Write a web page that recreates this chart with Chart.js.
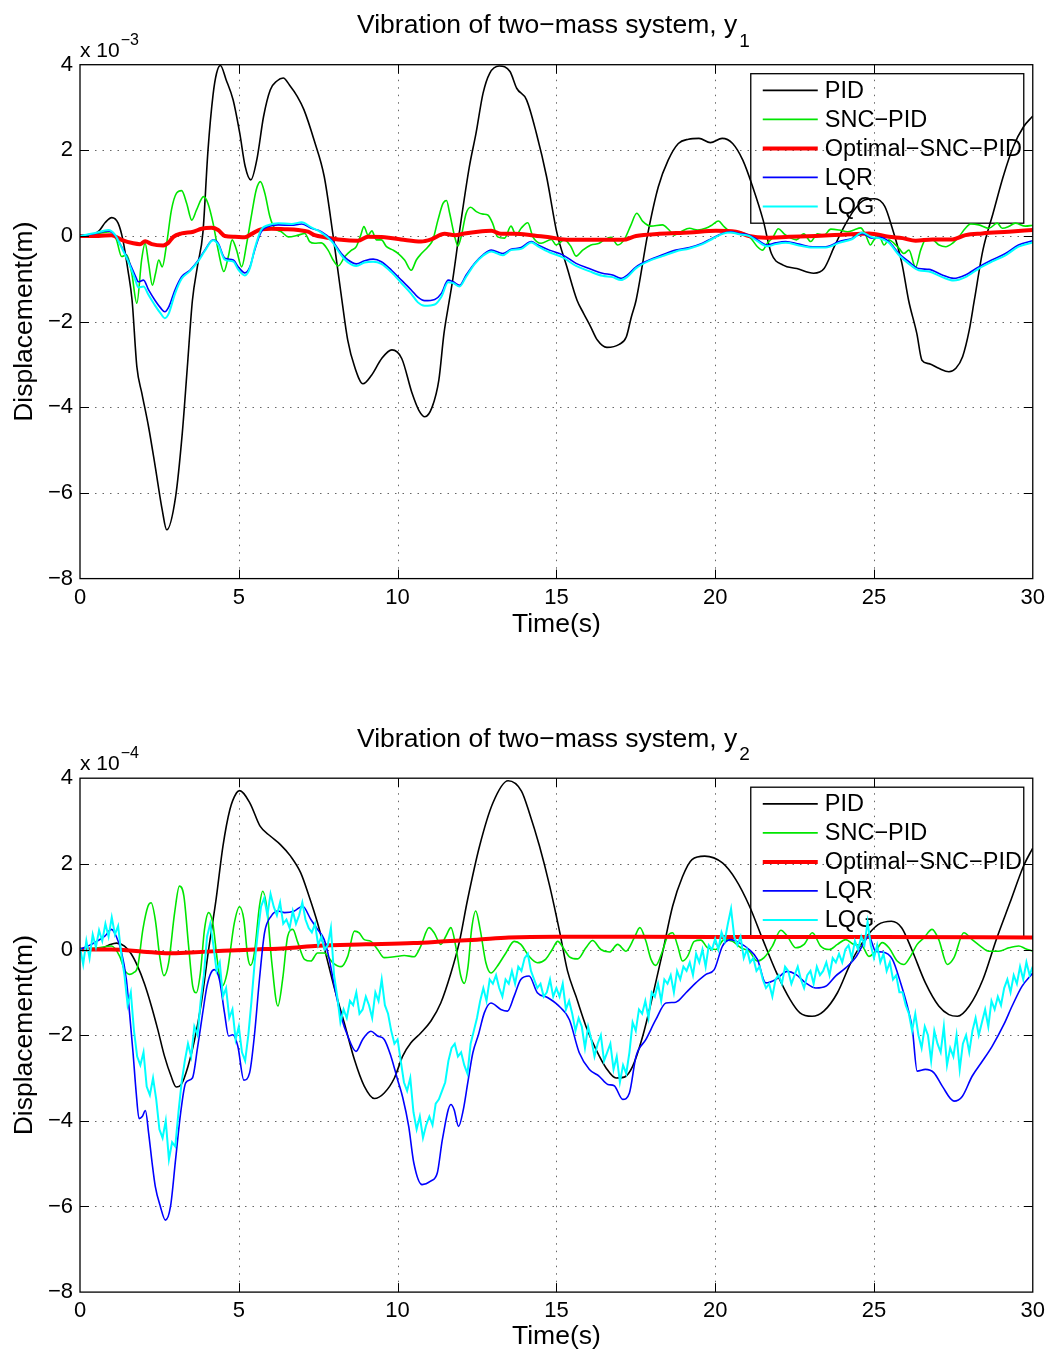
<!DOCTYPE html>
<html>
<head>
<meta charset="utf-8">
<title>Vibration of two-mass system</title>
<script src="https://cdn.jsdelivr.net/npm/chart.js@4.4.1/dist/chart.umd.min.js"></script>
<style>
  html, body { margin: 0; padding: 0; background: #fff; }
  #wrap { position: relative; width: 1051px; height: 1355px; }
  canvas { position: absolute; left: 0; }
</style>
</head>
<body>
<div id="wrap">
  <canvas id="c1" width="1051" height="675" style="top:0px"></canvas>
  <canvas id="c2" width="1051" height="680" style="top:675px"></canvas>
</div>
<script>
// ---- axis ticks and series names ----
const xTicks = [0, 5, 10, 15, 20, 25, 30];
const yTicks = [-8, -6, -4, -2, 0, 2, 4];
const seriesNames = ['PID', 'SNC\u2212PID', 'Optimal\u2212SNC\u2212PID', 'LQR', 'LQG'];

// ---- y1 response, [time s, displacement x1e-3 m] ----
const pidY1 = [[0,0],[0.4,0.03],[0.6,0.12],[0.8,0.32],[1.0,0.43],[1.2,0.3],[1.35,-0.09],[1.51,-0.8],[1.64,-1.5],[1.79,-3.05],[1.95,-3.68],[2.16,-4.46],[2.37,-5.39],[2.59,-6.4],[2.73,-6.86],[3.01,-6.09],[3.22,-4.61],[3.38,-3.06],[3.54,-1.5],[3.7,-0.7],[3.87,0.08],[4.03,2.0],[4.19,3.3],[4.3,3.8],[4.42,3.98],[4.6,3.65],[4.82,3.18],[5.03,2.4],[5.2,1.63],[5.38,1.31],[5.57,1.79],[5.78,2.79],[5.99,3.41],[6.2,3.62],[6.4,3.69],[6.6,3.52],[6.84,3.26],[7.05,2.95],[7.37,2.24],[7.69,1.39],[7.96,0.06],[8.22,-1.35],[8.43,-2.43],[8.65,-3.06],[8.91,-3.45],[9.18,-3.25],[9.5,-2.86],[9.82,-2.66],[10.13,-2.86],[10.46,-3.68],[10.67,-4.07],[10.86,-4.22],[11.09,-3.99],[11.3,-3.36],[11.46,-2.28],[11.63,-1.5],[11.74,-1.0],[11.94,0.06],[12.26,1.62],[12.47,2.4],[12.69,3.33],[12.9,3.8],[13.2,3.97],[13.54,3.84],[13.75,3.45],[14.06,3.18],[14.37,2.4],[14.69,1.39],[15.02,0.06],[15.33,-0.72],[15.65,-1.5],[15.86,-1.81],[16.08,-2.12],[16.29,-2.43],[16.59,-2.6],[16.98,-2.53],[17.2,-2.36],[17.36,-1.89],[17.51,-1.5],[17.88,0.06],[18.21,1.15],[18.52,1.77],[18.84,2.16],[19.16,2.26],[19.49,2.28],[19.85,2.18],[20.22,2.28],[20.55,2.16],[20.87,1.77],[21.18,1.15],[21.51,0.37],[21.77,-0.41],[22.14,-0.68],[22.57,-0.76],[23.1,-0.87],[23.43,-0.76],[23.75,-0.25],[24.06,0.22],[24.38,0.61],[24.7,0.84],[25.02,0.87],[25.34,0.69],[25.56,0.22],[25.88,-0.64],[26.09,-1.5],[26.35,-2.28],[26.51,-2.9],[26.73,-2.98],[27.04,-3.09],[27.36,-3.17],[27.58,-3.09],[27.79,-2.82],[28.0,-2.2],[28.16,-1.5],[28.43,-0.33],[28.75,0.53],[29.07,1.39],[29.39,2.09],[29.71,2.55],[30.0,2.8]];

const sncY1 = [[0,0],[0.58,0.06],[0.99,0.1],[1.15,-0.09],[1.31,-0.48],[1.47,-0.44],[1.63,-0.87],[1.79,-1.57],[1.94,-0.56],[2.05,-0.17],[2.16,-0.64],[2.28,-1.15],[2.38,-0.87],[2.48,-0.56],[2.59,-0.72],[2.73,-0.17],[2.88,0.61],[3.04,1.0],[3.2,1.06],[3.36,0.76],[3.52,0.37],[3.67,0.61],[3.89,0.92],[4.03,0.76],[4.19,0.3],[4.35,-0.33],[4.53,-0.83],[4.67,-0.48],[4.79,-0.09],[4.93,-0.33],[5.09,-0.72],[5.25,-0.17],[5.41,0.53],[5.55,1.08],[5.68,1.27],[5.82,1.0],[5.98,0.45],[6.13,0.18],[6.34,0.1],[6.56,-0.02],[6.87,0.02],[7.08,0.06],[7.23,-0.13],[7.39,-0.17],[7.6,-0.16],[7.81,-0.33],[7.97,-0.56],[8.13,-0.7],[8.34,-0.48],[8.55,-0.33],[8.7,-0.25],[8.84,0.02],[8.94,0.22],[9.07,0.02],[9.19,0.12],[9.33,-0.09],[9.49,-0.09],[9.65,-0.25],[9.86,-0.33],[10.02,-0.41],[10.22,-0.56],[10.43,-0.8],[10.59,-0.56],[10.75,-0.41],[10.96,-0.25],[11.11,-0.09],[11.27,0.37],[11.43,0.76],[11.54,0.83],[11.64,0.53],[11.8,-0.02],[11.9,-0.23],[12.0,-0.02],[12.16,0.53],[12.3,0.67],[12.48,0.57],[12.69,0.51],[12.84,0.49],[12.99,0.3],[13.15,-0.02],[13.37,-0.05],[13.57,0.23],[13.73,0.02],[13.89,0.18],[14.1,0.31],[14.26,-0.02],[14.52,-0.17],[14.84,-0.08],[14.99,-0.21],[15.25,-0.09],[15.46,-0.25],[15.62,-0.47],[15.83,-0.33],[16.09,-0.21],[16.35,-0.17],[16.51,-0.09],[16.72,-0.03],[16.93,-0.21],[17.14,-0.08],[17.35,0.26],[17.53,0.53],[17.72,0.34],[17.97,0.23],[18.34,0.26],[18.55,0.14],[18.71,0.02],[18.92,0.1],[19.19,0.18],[19.45,0.14],[19.7,0.18],[19.91,0.26],[20.1,0.35],[20.28,0.22],[20.49,0.1],[20.7,0.1],[20.92,0.06],[21.12,-0.05],[21.33,-0.25],[21.49,-0.33],[21.64,-0.17],[21.82,-0.03],[21.99,0.17],[22.17,0.05],[22.38,-0.05],[22.56,-0.09],[22.79,0.05],[23.01,-0.13],[23.22,0.05],[23.43,0.02],[23.64,0.16],[23.9,0.14],[24.17,0.1],[24.37,0.14],[24.58,0.19],[24.74,0.02],[24.89,-0.21],[25.0,-0.09],[25.16,0],[25.32,-0.21],[25.47,-0.09],[25.63,-0.17],[25.79,-0.29],[25.94,-0.41],[26.1,-0.33],[26.31,-0.73],[26.47,-0.33],[26.63,-0.09],[26.84,-0.09],[27.05,-0.21],[27.26,-0.25],[27.47,-0.17],[27.67,-0.02],[27.88,0.18],[28.04,0.28],[28.3,0.26],[28.62,0.18],[28.88,0.3],[29.04,0.18],[29.24,0.22],[29.45,0.3],[29.77,0.23],[30.0,0.25]];

const optY1 = [[0,0],[0.58,0],[0.99,0.02],[1.31,-0.09],[1.68,-0.17],[1.89,-0.19],[2.05,-0.12],[2.26,-0.19],[2.62,-0.22],[2.78,-0.16],[2.94,-0.02],[3.2,0.06],[3.57,0.1],[3.83,0.17],[4.14,0.19],[4.35,0.14],[4.56,0],[4.88,-0.02],[5.19,-0.03],[5.41,0.05],[5.71,0.16],[6.03,0.17],[6.45,0.16],[6.87,0.14],[7.18,0.1],[7.39,0.02],[7.71,-0.03],[8.23,-0.09],[8.75,-0.11],[9.07,-0.02],[9.59,-0.03],[10.11,-0.08],[10.74,-0.13],[11.06,-0.08],[11.48,0.05],[11.8,0.02],[12.11,0.06],[12.53,0.1],[12.95,0.12],[13.26,0.05],[13.68,0.05],[14.21,0.02],[14.78,-0.03],[15.41,-0.09],[16.35,-0.09],[17.09,-0.09],[17.51,0],[18.24,0.05],[19.19,0.08],[20.02,0.12],[20.65,0.1],[21.06,0],[21.59,-0.04],[22.33,-0.02],[23.16,0],[24.01,0.03],[24.84,0.06],[25.47,-0.02],[25.9,-0.05],[26.31,-0.11],[26.84,-0.08],[27.47,-0.08],[27.88,0.02],[28.41,0.06],[29.24,0.1],[30.0,0.14]];

const lqrY1 = [[0,0],[0.48,0.06],[0.89,0.12],[1.1,0.02],[1.31,-0.25],[1.52,-0.56],[1.73,-0.91],[1.84,-1.07],[2.0,-1.03],[2.16,-1.26],[2.36,-1.5],[2.55,-1.69],[2.67,-1.77],[2.8,-1.65],[2.99,-1.26],[3.2,-0.95],[3.46,-0.8],[3.73,-0.56],[3.93,-0.33],[4.19,-0.09],[4.35,-0.17],[4.56,-0.52],[4.83,-0.56],[4.98,-0.72],[5.19,-0.86],[5.35,-0.72],[5.5,-0.33],[5.71,0.1],[5.92,0.22],[6.24,0.26],[6.66,0.25],[6.98,0.28],[7.28,0.18],[7.6,0.1],[7.92,-0.09],[8.23,-0.41],[8.44,-0.56],[8.7,-0.65],[8.96,-0.58],[9.23,-0.54],[9.49,-0.6],[9.81,-0.8],[10.12,-1.03],[10.43,-1.26],[10.64,-1.43],[10.85,-1.51],[11.17,-1.48],[11.38,-1.34],[11.59,-1.03],[11.75,-1.07],[11.95,-1.15],[12.16,-0.91],[12.42,-0.64],[12.69,-0.44],[12.95,-0.33],[13.31,-0.41],[13.57,-0.31],[13.89,-0.27],[14.21,-0.13],[14.42,-0.21],[14.78,-0.33],[15.2,-0.44],[15.62,-0.64],[16.03,-0.76],[16.45,-0.87],[16.77,-0.91],[17.03,-0.99],[17.24,-0.91],[17.51,-0.72],[17.92,-0.56],[18.34,-0.44],[18.76,-0.33],[19.19,-0.27],[19.6,-0.17],[19.91,-0.05],[20.23,0.06],[20.49,0.1],[20.76,0.06],[21.07,0.02],[21.33,-0.09],[21.64,-0.21],[21.91,-0.16],[22.22,-0.13],[22.64,-0.19],[23.06,-0.25],[23.48,-0.25],[23.9,-0.13],[24.32,-0.05],[24.63,0.06],[24.94,-0.05],[25.16,-0.03],[25.47,-0.13],[25.79,-0.41],[26.1,-0.6],[26.41,-0.76],[26.73,-0.78],[27.15,-0.91],[27.51,-0.99],[27.88,-0.91],[28.3,-0.72],[28.71,-0.56],[29.14,-0.41],[29.55,-0.21],[30.0,-0.11]];

const lqgY1 = [[0,0],[0.48,0.07],[0.89,0.14],[1.1,0.03],[1.31,-0.27],[1.52,-0.6],[1.73,-1.0],[1.84,-1.2],[2.0,-1.18],[2.16,-1.38],[2.36,-1.62],[2.55,-1.82],[2.67,-1.92],[2.8,-1.8],[2.99,-1.35],[3.2,-1.0],[3.46,-0.82],[3.73,-0.58],[3.93,-0.35],[4.19,-0.1],[4.35,-0.2],[4.56,-0.55],[4.83,-0.6],[4.98,-0.78],[5.19,-0.92],[5.35,-0.75],[5.5,-0.3],[5.71,0.15],[5.92,0.25],[6.24,0.3],[6.66,0.28],[6.98,0.32],[7.28,0.2],[7.6,0.08],[7.92,-0.12],[8.23,-0.45],[8.44,-0.62],[8.7,-0.7],[8.96,-0.62],[9.23,-0.6],[9.49,-0.65],[9.81,-0.85],[10.12,-1.1],[10.43,-1.35],[10.64,-1.55],[10.85,-1.63],[11.17,-1.6],[11.38,-1.42],[11.59,-1.08],[11.75,-1.1],[11.95,-1.18],[12.16,-0.95],[12.42,-0.66],[12.69,-0.46],[12.95,-0.36],[13.31,-0.45],[13.57,-0.33],[13.89,-0.3],[14.21,-0.15],[14.42,-0.24],[14.78,-0.38],[15.2,-0.5],[15.62,-0.7],[16.03,-0.82],[16.45,-0.93],[16.77,-0.96],[17.03,-1.03],[17.24,-0.95],[17.51,-0.75],[17.92,-0.58],[18.34,-0.47],[18.76,-0.36],[19.19,-0.29],[19.6,-0.19],[19.91,-0.07],[20.23,0.05],[20.49,0.08],[20.76,0.04],[21.07,0.0],[21.33,-0.12],[21.64,-0.24],[21.91,-0.19],[22.22,-0.16],[22.64,-0.22],[23.06,-0.27],[23.48,-0.27],[23.9,-0.16],[24.32,-0.07],[24.63,0.08],[24.94,-0.03],[25.16,-0.05],[25.47,-0.16],[25.79,-0.45],[26.1,-0.65],[26.41,-0.8],[26.73,-0.83],[27.15,-0.96],[27.51,-1.04],[27.88,-0.96],[28.3,-0.76],[28.71,-0.6],[29.14,-0.45],[29.55,-0.25],[30.0,-0.15]];

// ---- y2 response, [time s, displacement x1e-4 m] ----
const pidY2 = [[0,0],[0.57,0.0],[0.9,0.1],[1.15,0.15],[1.4,0.08],[1.61,-0.1],[1.82,-0.4],[2.03,-0.8],[2.24,-1.3],[2.45,-1.87],[2.66,-2.49],[2.87,-2.96],[3.03,-3.21],[3.19,-3.15],[3.4,-2.73],[3.61,-2.1],[3.82,-1.25],[4.05,0.0],[4.29,1.2],[4.5,2.41],[4.72,3.27],[4.93,3.66],[5.03,3.71],[5.35,3.42],[5.67,2.88],[5.99,2.65],[6.31,2.45],[6.63,2.18],[6.95,1.79],[7.21,1.25],[7.48,0.62],[7.72,-0.05],[8.01,-0.9],[8.32,-1.71],[8.64,-2.57],[8.95,-3.19],[9.27,-3.48],[9.58,-3.35],[9.9,-3.0],[10.16,-2.49],[10.42,-2.18],[10.73,-1.95],[11.05,-1.67],[11.36,-1.25],[11.68,-0.55],[11.94,0.16],[12.2,1.15],[12.58,2.41],[13.0,3.42],[13.48,3.94],[13.9,3.7],[14.15,3.19],[14.47,2.41],[14.79,1.48],[15.11,0.39],[15.35,-0.5],[15.62,-1.1],[15.93,-1.79],[16.25,-2.34],[16.56,-2.76],[16.88,-3.0],[17.14,-2.98],[17.4,-2.73],[17.72,-2.02],[18.03,-1.09],[18.34,-0.08],[18.66,1.01],[18.97,1.7],[19.27,2.1],[19.67,2.18],[20.23,2.02],[20.65,1.63],[21.08,1.01],[21.5,0.23],[21.93,-0.54],[22.36,-1.17],[22.67,-1.48],[23.05,-1.56],[23.42,-1.44],[23.85,-1.01],[24.27,-0.31],[24.7,0.23],[25.13,0.58],[25.55,0.66],[25.87,0.51],[26.19,0.0],[26.62,-0.78],[27.04,-1.32],[27.36,-1.52],[27.63,-1.56],[28.0,-1.32],[28.43,-0.7],[28.85,0.23],[29.28,1.09],[29.71,1.95],[30.0,2.37]];

const sncY2 = [[0,0],[0.57,0.04],[0.99,0.08],[1.25,-0.16],[1.4,-0.47],[1.56,-0.58],[1.67,-0.55],[1.82,-0.39],[1.98,0.47],[2.14,1.01],[2.24,1.09],[2.37,0.7],[2.51,-0.16],[2.64,-0.61],[2.79,-0.31],[2.98,0.86],[3.13,1.48],[3.27,1.25],[3.42,0.08],[3.55,-0.86],[3.66,-1.01],[3.79,-0.55],[3.92,0.47],[4.05,0.86],[4.18,0.62],[4.32,-0.23],[4.47,-0.86],[4.63,-0.55],[4.86,0.62],[5.02,1.0],[5.16,0.7],[5.28,-0.16],[5.37,-0.37],[5.49,-0.08],[5.65,1.01],[5.75,1.36],[5.89,0.93],[6.04,-0.31],[6.23,-1.32],[6.38,-0.7],[6.54,0.31],[6.7,0.47],[6.86,0.16],[7.07,-0.23],[7.27,-0.27],[7.48,-0.08],[7.69,-0.08],[7.96,-0.31],[8.22,-0.4],[8.43,-0.16],[8.64,0.43],[8.79,0.39],[8.95,0.23],[9.16,0.19],[9.37,0.0],[9.58,-0.19],[9.9,-0.17],[10.21,-0.14],[10.52,-0.17],[10.73,0.08],[10.99,0.51],[11.15,0.39],[11.36,0.12],[11.52,0.31],[11.68,0.51],[11.83,0.08],[11.99,-0.62],[12.1,-0.79],[12.22,-0.39],[12.33,0.47],[12.46,0.9],[12.6,0.47],[12.78,-0.31],[12.94,-0.55],[13.14,-0.39],[13.41,-0.08],[13.67,0.19],[13.88,0.12],[14.14,-0.16],[14.4,-0.31],[14.66,-0.23],[14.87,0.0],[15.04,0.19],[15.25,0.0],[15.41,-0.17],[15.67,-0.22],[15.93,0.04],[16.14,0.21],[16.4,0.0],[16.67,-0.06],[16.93,0.12],[17.19,-0.04],[17.45,0.27],[17.63,0.51],[17.82,0.19],[17.98,-0.23],[18.13,-0.37],[18.34,-0.04],[18.5,0.31],[18.66,0.39],[18.82,0.08],[18.97,-0.27],[19.13,-0.16],[19.34,0.19],[19.55,0.22],[19.76,0.04],[20.02,0.0],[20.28,0.23],[20.55,0.19],[20.81,0.04],[21.07,-0.04],[21.33,-0.27],[21.54,-0.19],[21.8,0.08],[22.07,0.45],[22.27,0.31],[22.54,0.04],[22.8,0.12],[23.06,0.39],[23.32,0.08],[23.59,0.0],[23.85,0.12],[24.11,0.23],[24.37,0.12],[24.63,0.08],[24.84,-0.16],[25.05,-0.04],[25.26,0.16],[25.47,0.04],[25.73,-0.27],[25.94,-0.35],[26.15,-0.16],[26.36,0.12],[26.57,0.27],[26.83,0.47],[27.04,0.23],[27.31,-0.35],[27.52,-0.19],[27.83,0.39],[28.09,0.23],[28.35,0.08],[28.62,-0.04],[28.93,-0.04],[29.25,0.04],[29.56,0.08],[29.77,0.02],[30.0,-0.04]];

const optY2 = [[0,0],[1.0,0.0],[2.0,-0.05],[2.8,-0.09],[3.5,-0.07],[4.5,-0.03],[5.5,0.0],[6.5,0.03],[7.5,0.09],[9.0,0.12],[10.5,0.15],[11.5,0.19],[12.5,0.23],[13.5,0.28],[15.0,0.3],[20.0,0.29],[25.0,0.29],[30.0,0.28]];

const lqrY2 = [[0,0],[0.36,0.12],[0.78,0.31],[0.99,0.47],[1.14,0.31],[1.3,-0.04],[1.46,-0.7],[1.56,-1.48],[1.67,-2.41],[1.77,-3.35],[1.86,-3.95],[1.96,-3.9],[2.06,-3.76],[2.16,-4.28],[2.27,-4.98],[2.37,-5.53],[2.53,-6.0],[2.69,-6.32],[2.85,-6.0],[3.01,-4.9],[3.17,-3.81],[3.33,-3.11],[3.54,-3.0],[3.7,-2.3],[3.86,-1.5],[4.0,-0.85],[4.12,-0.55],[4.23,-0.47],[4.39,-0.7],[4.55,-1.48],[4.68,-2.02],[4.81,-1.99],[4.97,-2.26],[5.16,-3.05],[5.34,-2.88],[5.49,-2.02],[5.65,-0.7],[5.81,0.39],[6.02,0.78],[6.23,0.9],[6.44,0.86],[6.75,0.9],[7.01,1.01],[7.27,0.7],[7.48,0.47],[7.69,0.23],[7.85,-0.23],[8.01,-0.86],[8.22,-1.56],[8.43,-2.02],[8.69,-2.38],[8.9,-2.1],[9.16,-1.91],[9.37,-2.02],[9.58,-2.1],[9.79,-2.49],[10.0,-3.04],[10.16,-3.45],[10.35,-4.13],[10.51,-4.98],[10.77,-5.49],[11.04,-5.41],[11.25,-5.22],[11.41,-4.44],[11.68,-3.62],[11.78,-3.74],[11.92,-4.13],[12.07,-3.74],[12.21,-3.11],[12.37,-2.41],[12.55,-1.98],[12.73,-1.48],[12.94,-1.25],[13.25,-1.4],[13.46,-1.44],[13.67,-1.09],[13.88,-0.7],[14.14,-0.62],[14.4,-1.01],[14.72,-1.12],[15.05,-1.3],[15.41,-1.64],[15.72,-2.41],[16.04,-2.8],[16.35,-2.96],[16.62,-3.15],[16.82,-3.18],[17.09,-3.5],[17.3,-3.35],[17.51,-2.49],[17.82,-2.1],[18.13,-1.64],[18.45,-1.25],[18.76,-1.23],[19.08,-1.01],[19.39,-0.78],[19.71,-0.58],[19.97,-0.47],[20.23,0.08],[20.49,0.23],[20.75,0.16],[21.07,0.0],[21.33,-0.23],[21.59,-0.78],[21.91,-0.7],[22.27,-0.51],[22.54,-0.58],[22.85,-0.78],[23.17,-0.9],[23.48,-0.86],[23.79,-0.62],[24.11,-0.43],[24.42,-0.19],[24.69,0.16],[24.84,0.31],[25.05,-0.04],[25.26,-0.06],[25.58,-0.23],[25.84,-0.78],[26.05,-1.32],[26.21,-1.87],[26.36,-2.84],[26.62,-2.8],[26.89,-2.88],[27.15,-3.19],[27.52,-3.54],[27.78,-3.43],[28.09,-2.96],[28.41,-2.61],[28.72,-2.26],[29.09,-1.75],[29.35,-1.32],[29.66,-0.86],[30.0,-0.55]];

const lqgY2 = [[0,0.05],[0.1,-0.35],[0.2,0.2],[0.3,-0.2],[0.4,0.35],[0.5,0.05],[0.6,0.45],[0.7,0.2],[0.8,0.6],[0.9,0.3],[1.0,0.75],[1.1,0.35],[1.2,0.55],[1.3,-0.1],[1.4,-0.6],[1.5,-1.3],[1.6,-1.0],[1.7,-1.9],[1.8,-2.5],[1.9,-2.7],[2.0,-2.4],[2.1,-3.2],[2.2,-3.4],[2.3,-3.0],[2.4,-3.5],[2.5,-4.2],[2.6,-4.4],[2.7,-4.0],[2.8,-4.9],[2.9,-4.5],[3.0,-4.6],[3.1,-3.8],[3.2,-3.1],[3.3,-2.6],[3.4,-2.2],[3.5,-2.5],[3.6,-1.8],[3.7,-2.0],[3.8,-1.2],[3.9,-0.6],[4.0,0.3],[4.1,0.6],[4.2,0.1],[4.3,-0.5],[4.4,-0.3],[4.5,-1.1],[4.6,-0.9],[4.7,-1.6],[4.8,-1.4],[4.9,-2.1],[5.0,-1.8],[5.1,-2.4],[5.2,-2.6],[5.3,-2.0],[5.4,-1.2],[5.5,-0.3],[5.6,0.4],[5.7,1.0],[5.8,1.2],[5.9,0.8],[6.0,1.3],[6.1,1.0],[6.2,0.8],[6.3,1.1],[6.4,0.6],[6.5,0.7],[6.6,0.5],[6.7,0.9],[6.8,0.6],[6.9,0.8],[7.0,1.1],[7.1,0.7],[7.2,0.5],[7.3,0.4],[7.4,0.6],[7.5,0.1],[7.6,0.3],[7.7,0.0],[7.8,0.1],[7.9,0.5],[8.0,-0.6],[8.1,-1.1],[8.2,-1.7],[8.3,-1.4],[8.4,-1.6],[8.5,-1.2],[8.6,-1.3],[8.7,-1.0],[8.8,-1.5],[8.9,-1.4],[9.0,-1.1],[9.1,-1.3],[9.2,-1.6],[9.3,-1.0],[9.4,-1.2],[9.5,-0.7],[9.6,-1.3],[9.7,-1.5],[9.8,-1.9],[9.9,-2.2],[10.0,-2.1],[10.1,-2.6],[10.2,-3.1],[10.3,-3.3],[10.4,-3.0],[10.5,-3.8],[10.6,-4.2],[10.7,-3.9],[10.8,-4.4],[10.9,-4.1],[11.0,-3.9],[11.1,-4.1],[11.2,-3.6],[11.3,-3.5],[11.4,-3.3],[11.5,-3.1],[11.6,-2.6],[11.7,-2.3],[11.8,-2.2],[11.9,-2.5],[12.0,-2.4],[12.1,-2.7],[12.2,-2.9],[12.3,-2.2],[12.4,-1.9],[12.5,-1.6],[12.6,-1.2],[12.7,-0.9],[12.8,-1.2],[12.9,-0.7],[13.0,-0.8],[13.1,-0.6],[13.2,-0.9],[13.3,-1.1],[13.4,-0.7],[13.5,-0.8],[13.6,-0.5],[13.7,-0.8],[13.8,-0.4],[13.9,-0.5],[14.0,-0.2],[14.1,-0.1],[14.2,-0.5],[14.3,-0.7],[14.4,-0.9],[14.5,-0.8],[14.6,-1.1],[14.7,-1.0],[14.8,-0.7],[14.9,-1.1],[15.0,-0.9],[15.1,-1.1],[15.2,-0.8],[15.3,-1.4],[15.4,-1.2],[15.5,-1.5],[15.6,-1.9],[15.7,-1.6],[15.8,-1.8],[15.9,-2.3],[16.0,-1.8],[16.1,-2.1],[16.2,-2.5],[16.3,-2.2],[16.4,-2.0],[16.5,-2.6],[16.6,-2.4],[16.7,-2.2],[16.8,-2.8],[16.9,-2.5],[17.0,-3.1],[17.1,-2.7],[17.2,-2.9],[17.3,-2.4],[17.4,-1.7],[17.5,-1.9],[17.6,-1.4],[17.7,-1.5],[17.8,-1.2],[17.9,-1.6],[18.0,-1.0],[18.1,-1.1],[18.2,-0.8],[18.3,-1.2],[18.4,-0.7],[18.5,-0.8],[18.6,-0.6],[18.7,-1.0],[18.8,-0.5],[18.9,-0.7],[19.0,-0.4],[19.1,-0.5],[19.2,-0.3],[19.3,-0.6],[19.4,-0.1],[19.5,-0.3],[19.6,0.0],[19.7,-0.4],[19.8,0.1],[19.9,0.0],[20.0,0.25],[20.1,0.0],[20.2,0.4],[20.3,0.2],[20.4,0.6],[20.5,0.95],[20.6,0.3],[20.7,0.1],[20.8,0.3],[20.9,-0.2],[21.0,0.0],[21.1,-0.3],[21.2,-0.2],[21.3,-0.5],[21.4,-0.4],[21.5,-0.7],[21.6,-0.9],[21.7,-0.8],[21.8,-1.1],[21.9,-0.7],[22.0,-0.6],[22.1,-0.8],[22.2,-0.4],[22.3,-0.5],[22.4,-0.8],[22.5,-0.6],[22.6,-0.4],[22.7,-0.7],[22.8,-0.9],[22.9,-0.6],[23.0,-0.5],[23.1,-0.8],[23.2,-0.4],[23.3,-0.6],[23.4,-0.5],[23.5,-0.3],[23.6,-0.6],[23.7,-0.2],[23.8,-0.3],[23.9,-0.1],[24.0,-0.3],[24.1,0.0],[24.2,0.1],[24.3,-0.2],[24.4,0.2],[24.5,0.0],[24.6,0.3],[24.7,0.1],[24.8,0.65],[24.9,0.1],[25.0,-0.2],[25.1,0.1],[25.2,-0.3],[25.3,-0.1],[25.4,-0.5],[25.5,-0.3],[25.6,-0.7],[25.7,-0.6],[25.8,-1.0],[25.9,-1.0],[26.0,-1.3],[26.1,-1.5],[26.2,-1.9],[26.3,-1.5],[26.4,-2.0],[26.5,-2.3],[26.6,-1.8],[26.7,-2.0],[26.8,-2.6],[26.9,-1.9],[27.0,-2.2],[27.1,-2.4],[27.2,-1.8],[27.3,-2.7],[27.4,-2.3],[27.5,-2.5],[27.6,-2.0],[27.7,-2.8],[27.8,-2.2],[27.9,-2.0],[28.0,-2.4],[28.1,-1.9],[28.2,-1.6],[28.3,-2.0],[28.4,-1.7],[28.5,-1.4],[28.6,-1.8],[28.7,-1.2],[28.8,-1.4],[28.9,-1.1],[29.0,-1.3],[29.1,-0.9],[29.2,-0.7],[29.3,-1.0],[29.4,-0.6],[29.5,-0.8],[29.6,-0.4],[29.7,-0.7],[29.8,-0.3],[29.9,-0.6],[30.0,-0.4]];

// ---- styling ----
const FONT = '"Liberation Sans", Arial, Helvetica, sans-serif';
const seriesColors = ['#000000', '#00e600', '#ff0000', '#0000ff', '#00ffff'];
const seriesWidths = [1.6, 1.6, 4, 1.6, 2];

function minusLabel(v) {
  return v < 0 ? '\u2212' + Math.abs(v) : String(v);
}

// MATLAB-style frame: dotted grid, transparent legend box, boxed axes with inward ticks,
// title with subscript and the exponent multiplier above the y axis.
const frame = {
  id: 'frame',
  beforeDatasetsDraw(chart, args, o) {
    const { ctx, chartArea: a, scales: { x, y } } = chart;
    ctx.save();
    ctx.strokeStyle = 'rgba(0,0,0,0.6)';
    ctx.lineWidth = 1;
    ctx.setLineDash([1.5, 6]);
    for (const v of xTicks) {
      const p = Math.round(x.getPixelForValue(v)) + 0.5;
      if (p < a.left + 2 || p > a.right - 2) continue;
      ctx.beginPath(); ctx.moveTo(p, a.top); ctx.lineTo(p, a.bottom); ctx.stroke();
    }
    for (const v of yTicks) {
      const p = Math.round(y.getPixelForValue(v)) + 0.5;
      if (p < a.top + 2 || p > a.bottom - 2) continue;
      ctx.beginPath(); ctx.moveTo(a.left, p); ctx.lineTo(a.right, p); ctx.stroke();
    }
    ctx.setLineDash([]);

    // legend
    const w = 273, h = 149.5;
    const bx = a.right - 9 - w, by = a.top + 9;
    ctx.lineWidth = 1.3;
    ctx.strokeStyle = '#000';
    ctx.strokeRect(bx, by, w, h);
    ctx.font = '23.5px ' + FONT;
    ctx.textBaseline = 'middle';
    ctx.textAlign = 'left';
    ctx.fillStyle = '#000';
    chart.data.datasets.forEach((d, i) => {
      const cy = by + 16.7 + 29 * i;
      ctx.strokeStyle = d.borderColor;
      ctx.lineWidth = d.borderWidth;
      ctx.beginPath(); ctx.moveTo(bx + 12, cy); ctx.lineTo(bx + 67, cy); ctx.stroke();
      ctx.fillText(d.label, bx + 74, cy + 1);
    });
    ctx.restore();
  },
  afterDatasetsDraw(chart, args, o) {
    const { ctx, chartArea: a, scales: { x, y } } = chart;
    ctx.save();
    ctx.strokeStyle = '#000';
    ctx.lineWidth = 1.3;
    ctx.strokeRect(a.left, a.top, a.right - a.left, a.bottom - a.top);
    const tl = 9;
    ctx.lineWidth = 1;
    for (const v of xTicks) {
      const p = Math.round(x.getPixelForValue(v)) + 0.5;
      if (p < a.left + 2 || p > a.right - 2) continue;
      ctx.beginPath();
      ctx.moveTo(p, a.bottom); ctx.lineTo(p, a.bottom - tl);
      ctx.moveTo(p, a.top); ctx.lineTo(p, a.top + tl);
      ctx.stroke();
    }
    for (const v of yTicks) {
      const p = Math.round(y.getPixelForValue(v)) + 0.5;
      if (p < a.top + 2 || p > a.bottom - 2) continue;
      ctx.beginPath();
      ctx.moveTo(a.left, p); ctx.lineTo(a.left + tl, p);
      ctx.moveTo(a.right, p); ctx.lineTo(a.right - tl, p);
      ctx.stroke();
    }

    ctx.fillStyle = '#000';
    ctx.textAlign = 'left';
    ctx.textBaseline = 'alphabetic';
    // title with subscript
    ctx.font = '26.5px ' + FONT;
    const tx = a.left + 277;
    ctx.fillText(o.title, tx, a.top - 31.7);
    const tw = ctx.measureText(o.title).width;
    ctx.font = '19px ' + FONT;
    ctx.fillText(o.sub, tx + tw + 2, a.top - 18);

    // exponent multiplier
    ctx.font = '21px ' + FONT;
    const mt = 'x 10';
    ctx.fillText(mt, a.left, a.top - 8);
    const mw = ctx.measureText(mt).width;
    ctx.font = '16px ' + FONT;
    ctx.fillText(o.exp, a.left + mw + 1, a.top - 20);
    ctx.restore();
  }
};

function makeChart(id, series, opt) {
  const datasets = series.map((pts, i) => ({
    label: seriesNames[i],
    data: pts.map(p => ({ x: p[0], y: p[1] })),
    borderColor: seriesColors[i],
    backgroundColor: seriesColors[i],
    borderWidth: seriesWidths[i],
    pointRadius: 0,
    fill: false,
    tension: 0,
    cubicInterpolationMode: (opt.noisyLast && i === series.length - 1) ? 'default' : 'monotone',
    order: series.length - i
  }));
  const tickFont = { size: 22, family: FONT };
  const titleFont = { size: 26.5, family: FONT };
  return new Chart(document.getElementById(id), {
    type: 'line',
    data: { datasets },
    options: {
      responsive: false,
      animation: false,
      devicePixelRatio: 1,
      events: [],
      layout: { padding: { left: 0, right: 16.3, top: opt.top, bottom: opt.bottom } },
      plugins: {
        legend: { display: false },
        tooltip: { enabled: false },
        title: { display: false },
        frame: { title: opt.title, sub: opt.sub, exp: opt.exp }
      },
      scales: {
        x: {
          type: 'linear', min: 0, max: 30,
          ticks: { stepSize: 5, font: tickFont, color: '#000', padding: 6, maxRotation: 0, autoSkip: false },
          grid: { display: false, drawTicks: false },
          border: { display: false },
          title: { display: true, text: 'Time(s)', color: '#000', font: titleFont, padding: { top: 0, bottom: 0 } },
          afterFit(s) { s.height = opt.xh; }
        },
        y: {
          type: 'linear', min: -8, max: 4,
          ticks: { stepSize: 2, font: tickFont, color: '#000', padding: 7, callback: minusLabel },
          grid: { display: false, drawTicks: false },
          border: { display: false },
          title: { display: true, text: 'Displacement(m)', color: '#000', font: titleFont, padding: { top: 9, bottom: 0 } },
          afterFit(s) { s.width = 80; }
        }
      }
    },
    plugins: [frame]
  });
}

makeChart('c1', [pidY1, sncY1, optY1, lqrY1, lqgY1], {
  top: 64.7, bottom: 34, xh: 62.4,
  title: 'Vibration of two\u2212mass system, y', sub: '1', exp: '\u22123'
});
makeChart('c2', [pidY2, sncY2, optY2, lqrY2, lqgY2], {
  top: 103.2, bottom: 2, xh: 60.9, noisyLast: true,
  title: 'Vibration of two\u2212mass system, y', sub: '2', exp: '\u22124'
});
</script>
</body>
</html>
